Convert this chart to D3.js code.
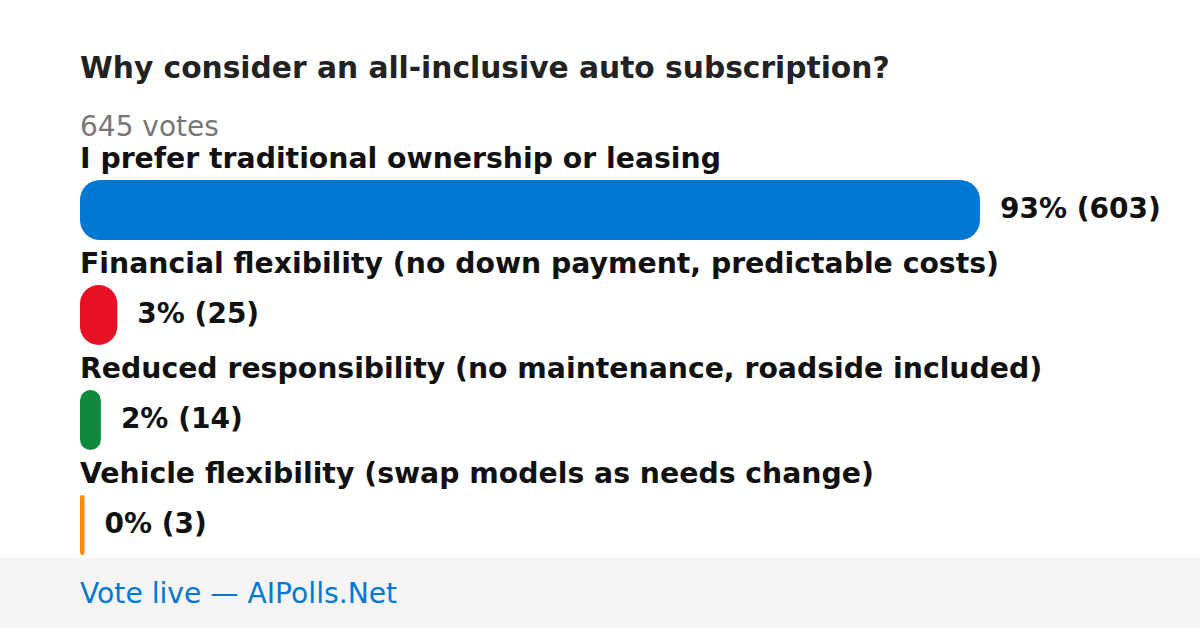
<!DOCTYPE html>
<html>
<head>
<meta charset="utf-8">
<script src="https://cdn.jsdelivr.net/npm/d3@7"></script>
<style>
  html, body { margin: 0; padding: 0; background: #fff; }
  svg { display: block; font-family: "DejaVu Sans", sans-serif; }
</style>
</head>
<body>
<div id="chart"></div>
<script>
let title = 'Why consider an all-inclusive auto subscription?';
let totalVotes = 645;
let options = [
  'I prefer traditional ownership or leasing',
  'Financial flexibility (no down payment, predictable costs)',
  'Reduced responsibility (no maintenance, roadside included)',
  'Vehicle flexibility (swap models as needs change)'
];
let votes = [603, 25, 14, 3];
let percents = [93, 3, 2, 0];
let colors = ['#0078d4', '#e81123', '#10893e', '#ff8c00'];
let footerText = 'Vote live — AIPolls.Net';

let width = 1200, height = 628;
let left = 80;
let barH = 60;

let svg = d3.select('#chart').append('svg')
            .attr('width', width)
            .attr('height', height);

svg.append('rect').attr('width', width).attr('height', height).attr('fill', '#fff');

svg.append('text')
   .attr('x', left).attr('y', 78)
   .style('font-size', '29.7px').style('font-weight', 'bold')
   .attr('fill', '#222')
   .text(title);

svg.append('text')
   .attr('x', left).attr('y', 136)
   .style('font-size', '28px')
   .attr('fill', '#777')
   .text(`${totalVotes} votes`);

// bar length relative to the biggest option
let xScale = d3.scaleLinear()
               .domain([0, d3.max(votes)])
               .range([0, 900]);

// one row per option, 105px apart
let yScale = d3.scaleBand()
               .domain(options)
               .range([145, 145 + 105 * options.length])
               .paddingInner(0);

let rows = svg.selectAll('g.row')
              .data(options)
              .enter()
              .append('g')
              .attr('class', 'row')
              .attr('transform', d => `translate(${left}, ${yScale(d)})`);

rows.append('text')
    .attr('y', 23)
    .style('font-size', '28.3px').style('font-weight', 'bold')
    .attr('fill', '#111')
    .text(d => d);

rows.append('rect')
    .attr('y', 35)
    .attr('height', barH)
    .attr('width', (d, i) => xScale(votes[i]))
    .attr('rx', (d, i) => Math.min(20, xScale(votes[i]) / 2))
    .attr('fill', (d, i) => colors[i]);

rows.append('text')
    .attr('x', (d, i) => xScale(votes[i]) + 20)
    .attr('y', 35 + barH / 2 + 8)
    .style('font-size', '28px').style('font-weight', 'bold')
    .attr('fill', '#111')
    .text((d, i) => `${percents[i]}% (${votes[i]})`);

// footer band
svg.append('rect')
   .attr('x', 0).attr('y', 558)
   .attr('width', width).attr('height', height - 558)
   .attr('fill', '#f4f4f4');

svg.append('text')
   .attr('x', left).attr('y', 603)
   .style('font-size', '28.2px')
   .attr('fill', '#0078d4')
   .text(footerText);
</script>
</body>
</html>
